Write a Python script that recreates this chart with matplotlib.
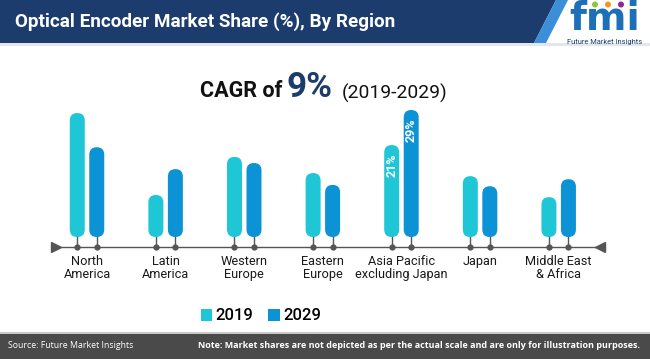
import matplotlib
matplotlib.use('Agg')
import matplotlib.pyplot as plt
from matplotlib.patches import FancyBboxPatch, Polygon, Rectangle, Circle, Patch

# data (percent share)
regions = ['North\nAmerica', 'Latin\nAmerica', 'Western\nEurope', 'Eastern\nEurope',
           'Asia Pacific\nexcluding Japan', 'Japan', 'Middle East\n& Africa']
share_2019 = [28.3, 9.6, 18.3, 14.6, 21, 13.9, 9.1]
share_2029 = [20.5, 15.5, 16.9, 11.9, 29, 11.6, 13.2]
years = ['2019', '2029']
bar_labels = {4: ('21%', '29%')}

NAVY = '#1b3c6d'
CYAN = '#1ec6d6'
BLUE = '#0b93d5'
GREY = '#555555'
FONT = ['Roboto', 'DejaVu Sans']

plt.rcParams['font.family'] = FONT

fig = plt.figure(figsize=(6.5, 3.59), dpi=100)
renderer = fig.canvas.get_renderer()


def fit(t, width):
    # scale the font so the text spans the given width in pixels
    w = t.get_window_extent(renderer).width
    t.set_fontsize(t.get_fontsize() * width / w)
    return t


# background axes in pixel coordinates for header / footer decoration
bg = fig.add_axes([0, 0, 1, 1])
bg.set_xlim(0, 650)
bg.set_ylim(359, 0)
bg.axis('off')

bg.add_patch(Polygon([(0, 0), (556, 0), (534, 43), (0, 43)], closed=True, fc=NAVY, ec='none'))
bg.add_patch(Polygon([(556, 0), (568, 0), (546, 43), (534, 43)], closed=True, fc='#3b8fd8', ec='none'))
bg.add_patch(Rectangle((0, 43), 650, 3, fc='#e4e6ea', ec='none'))
fit(bg.text(15, 22, 'Optical Encoder Market Share (%), By Region', color='white',
            fontsize=14, fontweight='bold', va='center', ha='left'), 380)

# logo
bg.text(605, 19, 'fmi', color='#1d6fb8', fontsize=28, fontweight='bold',
        ha='center', va='center', family=['DejaVu Sans'])
for cx, col in [(595, '#8cc63f'), (608, '#f7941d'), (621, '#92278f')]:
    bg.add_patch(Circle((cx, 4.5), 3, fc=col, ec='none'))
fit(bg.text(605, 42, 'Future Market Insights', color='#1d3f6e', fontsize=4.2,
            ha='center', va='center'), 76)

# CAGR heading
fit(bg.text(200, 97, 'CAGR of', color='#111111', fontsize=15, fontweight='bold',
            ha='left', va='baseline'), 83)
fit(bg.text(287, 97, '9%', color=NAVY, fontsize=21, fontweight='bold',
            ha='left', va='baseline'), 46)
fit(bg.text(342, 99, '(2019-2029)', color='#111111', fontsize=13,
            ha='left', va='baseline'), 105)

# footer
bg.add_patch(Rectangle((0, 333), 650, 26, fc='#4a4a4a', ec='none'))
bg.add_patch(Rectangle((0, 332), 650, 1.5, fc='#c8c8c8', ec='none'))
fit(bg.text(8, 346, 'Source: Future Market Insights', color='white', fontsize=8.5,
            ha='left', va='center', family=['Open Sans', 'DejaVu Sans']), 125)
fit(bg.text(640, 346, 'Note: Market shares are not depicted as per the actual scale and are only for illustration purposes.',
            color='white', fontsize=5.6, fontweight='bold', ha='right', va='center',
            family=['Open Sans', 'DejaVu Sans']), 447)

# chart axes
ax = fig.add_axes([40 / 650, (359 - 252) / 359, 580 / 650, 152 / 359])
x_lo, x_hi = -0.598, 6.78
y_lo, y_hi = -3.42, 31.28
ax.set_xlim(x_lo, x_hi)
ax.set_ylim(y_lo, y_hi)
ax.axis('off')

px_x = (x_hi - x_lo) / 580
px_y = (y_hi - y_lo) / 152
bar_w = 15 * px_x
off = 9.75 * px_x
axis_y = -2.28

ax.plot([-0.40, 6.52], [axis_y, axis_y], color=GREY, lw=1, zorder=1)
ax.plot([-0.40], [axis_y], marker='>', color=GREY, markersize=7, zorder=2)
ax.plot([6.52], [axis_y], marker='<', color=GREY, markersize=7, zorder=2)

for i, region in enumerate(regions):
    for j, (vals, col) in enumerate([(share_2019, CYAN), (share_2029, BLUE)]):
        x = i + (-off if j == 0 else off)
        v = vals[i]
        ax.add_patch(FancyBboxPatch((x - bar_w / 2, 0), bar_w, v,
                                    boxstyle=f'round,pad=0,rounding_size={bar_w / 2}',
                                    mutation_aspect=px_y / px_x, fc=col, ec='none', zorder=3))
        ax.plot([x, x], [0.5, axis_y], color=GREY, lw=1, zorder=2)
        ax.plot([x], [axis_y], marker='o', color=GREY, markersize=3.5, zorder=4)
        if i in bar_labels:
            ax.text(x, v - 2.0, bar_labels[i][j], rotation=90, color='white', fontsize=9,
                    fontweight='bold', ha='center', va='top', zorder=5)
    ax.text(i, -4.0, region, ha='center', va='top', fontsize=9.2, color='#1a1a1a',
            linespacing=1.05, clip_on=False)

handles = [Patch(fc=CYAN, ec='none'), Patch(fc=BLUE, ec='none')]
fig.legend(handles, years, loc='center', bbox_to_anchor=(261 / 650, 1 - 316 / 359), ncol=2,
           frameon=False, handlelength=0.7, handleheight=0.7, handletextpad=0.2,
           columnspacing=0.9, prop={'size': 12, 'family': FONT, 'weight': 'medium'})

fig.savefig('out.png', dpi=100)
